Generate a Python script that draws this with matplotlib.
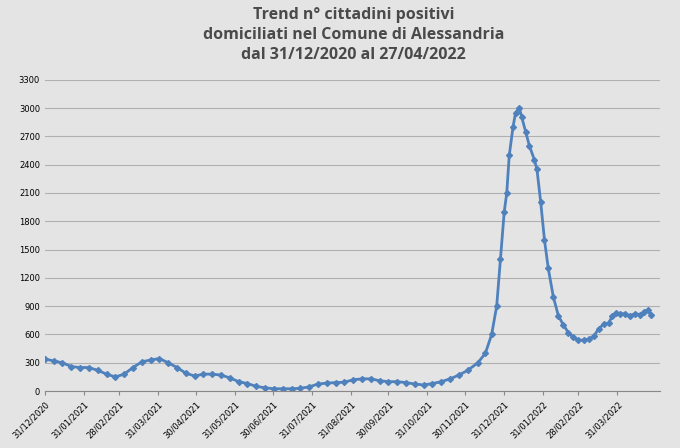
import numpy as np
import pandas as pd
import matplotlib
matplotlib.use("Agg")
import matplotlib.pyplot as plt

# weekly readings 31/12/2020 .. 02/12/2021
weekly_start = "2020-12-31"
weekly_vals = [340, 320, 300, 260, 250, 250, 220, 180, 150, 180, 250, 310, 330,
               345, 300, 250, 190, 160, 180, 180, 170, 140, 100, 80, 50, 35,
               25, 25, 25, 30, 45, 75, 85, 90, 95, 120, 130, 130, 110, 100,
               100, 90, 75, 65, 80, 100, 130, 170, 220]

# denser readings around the omicron wave
late_dates = ["2021-12-10", "2021-12-16", "2021-12-21", "2021-12-25", "2021-12-28",
              "2021-12-31", "2022-01-02", "2022-01-04", "2022-01-07", "2022-01-09",
              "2022-01-12", "2022-01-14", "2022-01-17", "2022-01-20", "2022-01-24",
              "2022-01-26", "2022-01-29", "2022-02-01", "2022-02-04", "2022-02-08",
              "2022-02-12", "2022-02-16", "2022-02-20", "2022-02-24", "2022-02-28",
              "2022-03-04", "2022-03-08", "2022-03-12", "2022-03-16", "2022-03-20",
              "2022-03-24", "2022-03-27", "2022-03-30", "2022-04-02", "2022-04-06",
              "2022-04-10", "2022-04-14", "2022-04-18", "2022-04-21", "2022-04-24",
              "2022-04-27"]
late_vals = [300, 400, 600, 900, 1400, 1900, 2100, 2500, 2800, 2950,
             3000, 2900, 2750, 2600, 2450, 2350, 2000, 1600, 1300, 1000,
             800, 700, 620, 570, 540, 540, 550, 580, 660, 710,
             720, 800, 830, 820, 820, 800, 820, 810, 840, 860,
             810]

tick_dates = ["2020-12-31", "2021-01-31", "2021-02-28", "2021-03-31", "2021-04-30",
              "2021-05-31", "2021-06-30", "2021-07-31", "2021-08-31", "2021-09-30",
              "2021-10-31", "2021-11-30", "2021-12-31", "2022-01-31", "2022-02-28",
              "2022-03-31"]

dates = list(pd.date_range(weekly_start, periods=len(weekly_vals), freq="7D")) + \
    list(pd.to_datetime(late_dates))
vals = weekly_vals + late_vals

fig = plt.figure(figsize=(6.8, 4.48), dpi=100)
fig.patch.set_facecolor("#e4e4e4")
ax = fig.add_axes([0.066, 0.127, 0.905, 0.695])
ax.set_facecolor("#e4e4e4")

ax.plot(dates, vals, color="#4f81bd", lw=2, marker="D", ms=3)

ax.set_ylim(0, 3300)
ax.set_yticks(np.arange(0, 3301, 300))
ax.grid(axis="y", color="#b0b0b0", lw=0.8)
ax.set_axisbelow(True)
ticks = pd.to_datetime(tick_dates)
ax.set_xticks(ticks)
ax.set_xticklabels([t.strftime("%d/%m/%Y") for t in ticks], rotation=45,
                   ha="right", rotation_mode="anchor", fontsize=6)
ax.set_xlim(pd.Timestamp("2020-12-31"), pd.Timestamp("2022-05-04"))
ax.tick_params(axis="y", labelsize=6, length=0)
ax.tick_params(axis="x", length=3, color="#888888")
for s in ["top", "right", "left"]:
    ax.spines[s].set_visible(False)
ax.spines["bottom"].set_color("#888888")

fig.text(0.52, 0.985, "Trend n° cittadini positivi\ndomiciliati nel Comune di Alessandria\n"
         "dal 31/12/2020 al 27/04/2022", ha="center", va="top", fontsize=11.5,
         fontweight="bold", color="#4a4a4a", linespacing=1.35,
         family=["Open Sans", "DejaVu Sans"])

plt.savefig("out.png", dpi=100, facecolor=fig.get_facecolor())
